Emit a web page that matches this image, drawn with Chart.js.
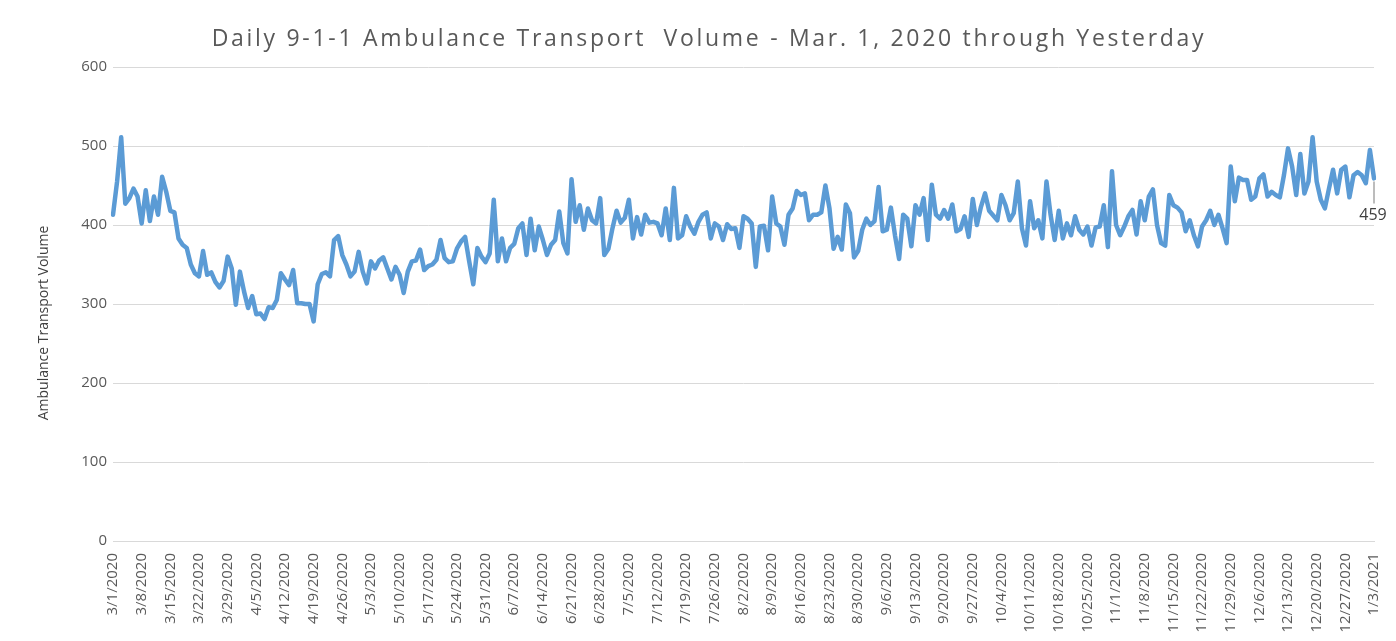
<!DOCTYPE html>
<html>
<head>
<meta charset="utf-8">
<title>Daily 9-1-1 Ambulance Transport Volume</title>
<script src="https://cdn.jsdelivr.net/npm/chart.js@4.4.0/dist/chart.umd.min.js"></script>
<style>
    html, body { margin: 0; padding: 0; background: #ffffff; }
    #wrap { width: 1396px; height: 641px; }
</style>
</head>
<body>
<div id="wrap"><canvas id="transportChart" width="1396" height="641"></canvas></div>
<script>
// ---------------- DATA ----------------
const chartTitle = 'Daily 9-1-1 Ambulance Transport  Volume - Mar. 1, 2020 through Yesterday';
const yAxisTitle = 'Ambulance Transport Volume';
const yTickValues = [0, 100, 200, 300, 400, 500, 600];
const firstDay = [2020, 2, 1];   // 3/1/2020
const tickEvery = 7;             // one date label per week

// daily transports, one array per month
const volMar2020 = [413, 455, 511, 427, 434, 446, 436, 402, 444, 405, 436, 413, 461, 442, 418, 416, 383, 375, 371, 350, 339, 335, 367, 337, 340, 328, 321, 329, 360, 345, 299];
const volApr2020 = [341, 316, 295, 310, 287, 288, 281, 296, 295, 305, 339, 331, 324, 343, 301, 301, 300, 300, 278, 325, 338, 340, 335, 381, 386, 362, 350, 335, 341, 366];
const volMay2020 = [341, 326, 354, 345, 355, 359, 345, 331, 347, 337, 314, 341, 354, 355, 369, 343, 348, 350, 356, 381, 358, 353, 354, 370, 379, 385, 354, 325, 371, 360, 353];
const volJun2020 = [364, 432, 354, 383, 354, 371, 376, 396, 402, 362, 408, 368, 398, 381, 362, 375, 381, 417, 377, 364, 458, 404, 425, 394, 421, 406, 402, 434, 362, 370];
const volJul2020 = [396, 418, 403, 409, 432, 383, 410, 388, 413, 403, 404, 402, 387, 421, 381, 447, 383, 387, 411, 398, 389, 404, 413, 416, 383, 402, 398, 381, 401, 395, 396];
const volAug2020 = [371, 411, 408, 402, 347, 398, 399, 368, 436, 402, 398, 375, 413, 421, 443, 438, 440, 406, 413, 413, 416, 450, 421, 370, 385, 369, 426, 415, 359, 367, 394];
const volSep2020 = [408, 400, 405, 448, 392, 394, 422, 387, 357, 413, 408, 373, 425, 413, 434, 381, 451, 413, 408, 419, 408, 426, 392, 395, 411, 385, 433, 400, 423, 440];
const volOct2020 = [418, 412, 406, 438, 425, 406, 415, 455, 396, 374, 430, 396, 406, 383, 455, 413, 381, 418, 383, 402, 387, 411, 394, 388, 398, 374, 397, 398, 425, 372, 468];
const volNov2020 = [400, 387, 398, 411, 419, 388, 430, 406, 436, 445, 400, 377, 374, 438, 425, 422, 416, 392, 406, 387, 373, 398, 406, 418, 400, 413, 396, 377, 474, 430];
const volDec2020 = [460, 457, 457, 432, 436, 459, 464, 436, 442, 438, 435, 463, 497, 474, 438, 490, 440, 455, 511, 455, 432, 421, 446, 470, 440, 470, 474, 435, 463, 467, 463];
const volJan2021 = [453, 495, 459];

const dailyVolume = [].concat(volMar2020, volApr2020, volMay2020, volJun2020, volJul2020,
    volAug2020, volSep2020, volOct2020, volNov2020, volDec2020, volJan2021);

// category labels M/D/YYYY, one per day
const dayLabels = dailyVolume.map((v, i) => {
    const d = new Date(firstDay[0], firstDay[1], firstDay[2] + i);
    return (d.getMonth() + 1) + '/' + d.getDate() + '/' + d.getFullYear();
});

// ---------------- STYLE ----------------
const FONT = "'Open Sans', 'DejaVu Sans', sans-serif";
const TEXT_GREY = '#595959';
const GRID_GREY = '#d9d9d9';
const LINE_BLUE = '#5b9bd5';

// title, y-axis title and the label on the last point
const annotationsPlugin = {
    id: 'annotations',
    afterDraw(chart) {
        const c = chart.ctx;
        const area = chart.chartArea;

        // spaced-out title, as in the original
        c.save();
        c.fillStyle = TEXT_GREY;
        c.font = '23px ' + FONT;
        c.letterSpacing = '2.7px';
        c.textAlign = 'center';
        c.textBaseline = 'middle';
        c.fillText(chartTitle, 709, 39);
        c.restore();

        // rotated y title
        c.save();
        c.fillStyle = '#404040';
        c.font = '14px ' + FONT;
        c.translate(44, (area.top + area.bottom) / 2 + 19);
        c.rotate(-Math.PI / 2);
        c.textAlign = 'center';
        c.textBaseline = 'middle';
        c.fillText(yAxisTitle, 0, 0);
        c.restore();

        // last value with its leader line
        const meta = chart.getDatasetMeta(0);
        const pt = meta.data[meta.data.length - 1];
        if (!pt) return;
        c.save();
        c.strokeStyle = '#a6a6a6';
        c.lineWidth = 1.5;
        c.beginPath();
        c.moveTo(pt.x, pt.y + 3);
        c.lineTo(pt.x, pt.y + 25);
        c.stroke();
        c.fillStyle = '#404040';
        c.font = '16px ' + FONT;
        c.textAlign = 'center';
        c.textBaseline = 'top';
        c.fillText(String(dailyVolume[dailyVolume.length - 1]), pt.x - 1, pt.y + 29);
        c.restore();
    }
};

const ctx = document.getElementById('transportChart').getContext('2d');
new Chart(ctx, {
    type: 'line',
    data: {
        labels: dayLabels,
        datasets: [{
            label: 'Transports',
            data: dailyVolume,
            borderColor: LINE_BLUE,
            borderWidth: 4.5,
            pointRadius: 0,
            tension: 0,
            borderJoinStyle: 'round',
            borderCapStyle: 'round'
        }]
    },
    options: {
        responsive: false,
        animation: false,
        layout: { padding: { left: 0, right: 13, top: 67, bottom: 0 } },
        plugins: {
            legend: { display: false },
            tooltip: { enabled: false },
            title: { display: false }
        },
        scales: {
            x: {
                grid: { display: false },
                border: { display: true, color: GRID_GREY, width: 1 },
                ticks: {
                    autoSkip: false,
                    maxRotation: 90,
                    minRotation: 90,
                    padding: 4,
                    color: TEXT_GREY,
                    font: { family: FONT, size: 15 },
                    callback: (val, i) => (i % tickEvery === 0 ? dayLabels[i] : null)
                },
                afterFit: (scale) => { scale.height = 100; }
            },
            y: {
                min: yTickValues[0],
                max: yTickValues[yTickValues.length - 1],
                afterBuildTicks: (scale) => { scale.ticks = yTickValues.map(v => ({ value: v })); },
                grid: { color: GRID_GREY, lineWidth: 1, drawTicks: false },
                border: { display: false },
                ticks: {
                    padding: 6,
                    color: TEXT_GREY,
                    font: { family: FONT, size: 15 }
                },
                afterFit: (scale) => { scale.width = 113; }
            }
        }
    },
    plugins: [annotationsPlugin]
});
</script>
</body>
</html>
